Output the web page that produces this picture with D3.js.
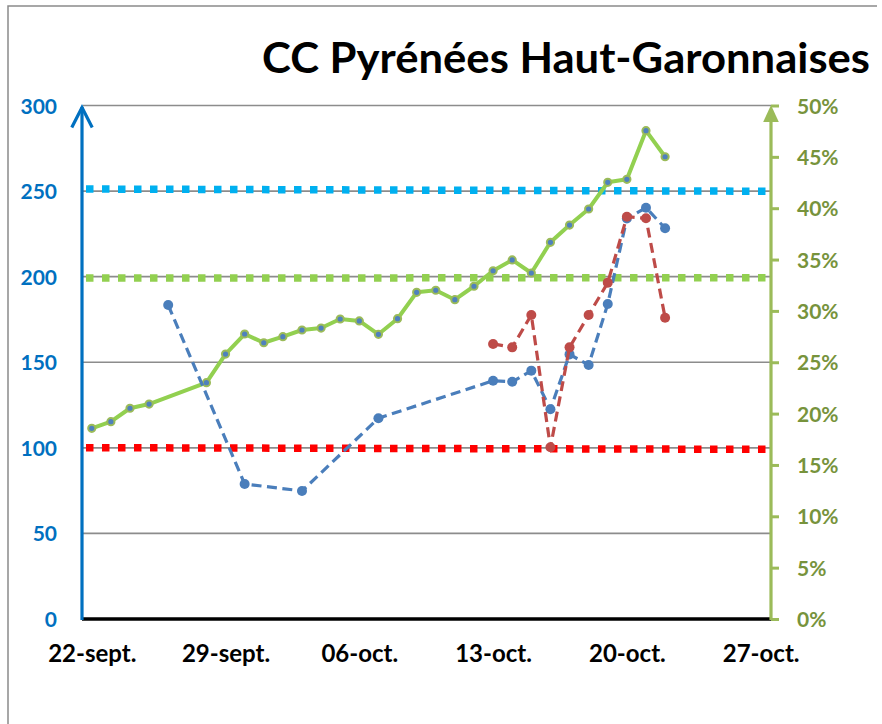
<!DOCTYPE html>
<html>
<head>
<meta charset="utf-8">
<script src="https://cdn.jsdelivr.net/npm/d3@7"></script>
<style>
  html, body { margin: 0; padding: 0; background: #ffffff; }
  svg { display: block; }
  text { font-family: Lato, "Open Sans", "DejaVu Sans", sans-serif; font-weight: bold; }
</style>
</head>
<body>
<svg id="chart" width="882" height="724"></svg>
<script>
// ---- data ----
const title = "CC Pyrénées Haut-Garonnaises";

// green series (right axis, %)
const greenDates = ["2020-09-22","2020-09-23","2020-09-24","2020-09-25","2020-09-28","2020-09-29","2020-09-30",
  "2020-10-01","2020-10-02","2020-10-03","2020-10-04","2020-10-05","2020-10-06","2020-10-07","2020-10-08",
  "2020-10-09","2020-10-10","2020-10-11","2020-10-12","2020-10-13","2020-10-14","2020-10-15","2020-10-16",
  "2020-10-17","2020-10-18","2020-10-19","2020-10-20","2020-10-21","2020-10-22"];
const greenValues = [18.57,19.21,20.52,20.93,23.01,25.80,27.75,
  26.90,27.49,28.14,28.33,29.21,29.02,27.72,29.24,
  31.81,32.01,31.09,32.40,33.91,34.96,33.69,36.68,
  38.36,39.92,42.52,42.81,47.55,45.01];

// blue series (left axis)
const blueDates = ["2020-09-26","2020-09-30","2020-10-03","2020-10-07","2020-10-13","2020-10-14","2020-10-15",
  "2020-10-16","2020-10-17","2020-10-18","2020-10-19","2020-10-20","2020-10-21","2020-10-22"];
const blueValues = [183.4,78.9,74.8,117.3,139.2,138.6,145.1,122.5,154.6,148.4,184,234,240.3,228.3];

// red series (left axis)
const redDates = ["2020-10-13","2020-10-14","2020-10-15","2020-10-16","2020-10-17","2020-10-18","2020-10-19",
  "2020-10-20","2020-10-21","2020-10-22"];
const redValues = [160.7,158.7,177.6,100.3,158.7,177.6,196.5,235,234.1,176];

// reference (threshold) lines on left axis: [start value, end value]
const refCyan = [251.2, 249.9];
const refGreen = [199.2, 199.4];
const refRed = [100.1, 99.1];

// axes
const leftTicks = [0,50,100,150,200,250,300];
const rightTicks = [0,5,10,15,20,25,30,35,40,45,50];
const xTickDates = ["2020-09-22","2020-09-29","2020-10-06","2020-10-13","2020-10-20","2020-10-27"];
const xTickLabels = ["22-sept.","29-sept.","06-oct.","13-oct.","20-oct.","27-oct."];
const xDomain = ["2020-09-21T13:00","2020-10-27T13:00"];

// ---- drawing ----
const parseDay = d3.utcParse("%Y-%m-%d");
const parseDT = d3.utcParse("%Y-%m-%dT%H:%M");
const svg = d3.select("#chart");

const plot = {left: 83, right: 771, top: 105.5, bottom: 619};

const x = d3.scaleUtc().domain(xDomain.map(parseDT)).range([plot.left, plot.right]);
const yL = d3.scaleLinear().domain([0, 300]).range([plot.bottom, plot.top]);
const yR = d3.scaleLinear().domain([0, 50]).range([plot.bottom, plot.top]);

// outer frame (top + left edges visible)
svg.append("path").attr("d", "M8,724 L8,6 L877,6")
  .attr("fill", "none").attr("stroke", "#8a8a8a").attr("stroke-width", 1.5);

// title
svg.append("text").attr("x", 870).attr("y", 73).attr("text-anchor", "end")
  .attr("font-size", 42).attr("fill", "#000")
  .attr("textLength", 608).attr("lengthAdjust", "spacingAndGlyphs")
  .text(title);

// gridlines
svg.append("g").selectAll("line").data(leftTicks.filter(d => d > 0)).join("line")
  .attr("x1", plot.left).attr("x2", plot.right)
  .attr("y1", d => yL(d)).attr("y2", d => yL(d))
  .attr("stroke", "#8c8c8c").attr("stroke-width", 1.6);

// reference dotted lines
function refLine(vals, color) {
  const pts = [[x.domain()[0], vals[0]], [x.domain()[1], vals[1]]];
  svg.append("path")
    .attr("d", d3.line().x(d => x(d[0])).y(d => yL(d[1]))(pts))
    .attr("fill", "none").attr("stroke", color).attr("stroke-width", 7.5)
    .attr("stroke-dasharray", "7.5,8.5").attr("stroke-dashoffset", -3);
}
refLine(refCyan, "#00b0f0");
refLine(refGreen, "#92d050");
refLine(refRed, "#ff0000");

// green line (right axis)
const greenData = greenDates.map((d, i) => ({d: parseDay(d), v: greenValues[i]}));
svg.append("path").datum(greenData)
  .attr("d", d3.line().x(p => x(p.d)).y(p => yR(p.v)))
  .attr("fill", "none").attr("stroke", "#92d050").attr("stroke-width", 4)
  .attr("stroke-linejoin", "round");
svg.append("g").selectAll("circle").data(greenData).join("circle")
  .attr("cx", p => x(p.d)).attr("cy", p => yR(p.v)).attr("r", 3.6)
  .attr("fill", "#4f81bd").attr("stroke", "#9bbb59").attr("stroke-width", 2);

// blue dashed
const blueData = blueDates.map((d, i) => ({d: parseDay(d), v: blueValues[i]}));
svg.append("path").datum(blueData)
  .attr("d", d3.line().x(p => x(p.d)).y(p => yL(p.v)))
  .attr("fill", "none").attr("stroke", "#4a7ebb").attr("stroke-width", 3.2)
  .attr("stroke-dasharray", "10,5.5");
svg.append("g").selectAll("circle").data(blueData).join("circle")
  .attr("cx", p => x(p.d)).attr("cy", p => yL(p.v)).attr("r", 5)
  .attr("fill", "#4a7ebb");

// red dashed
const redData = redDates.map((d, i) => ({d: parseDay(d), v: redValues[i]}));
svg.append("path").datum(redData)
  .attr("d", d3.line().x(p => x(p.d)).y(p => yL(p.v)))
  .attr("fill", "none").attr("stroke", "#be4b48").attr("stroke-width", 3.2)
  .attr("stroke-dasharray", "10,5.5");
svg.append("g").selectAll("circle").data(redData).join("circle")
  .attr("cx", p => x(p.d)).attr("cy", p => yL(p.v)).attr("r", 5)
  .attr("fill", "#be4b48");

// x axis
const xAxis = svg.append("g").attr("transform", `translate(0,${plot.bottom})`)
  .call(d3.axisBottom(x).tickValues(xTickDates.map(parseDay))
    .tickFormat((d, i) => xTickLabels[i]).tickSize(0));
xAxis.select(".domain").remove();
xAxis.selectAll("text").attr("y", 43).attr("dy", 0)
  .attr("font-size", 24).attr("fill", "#000")
  .style("font-family", "Lato, sans-serif").style("font-weight", "bold");
svg.append("line").attr("x1", plot.left - 1).attr("x2", plot.right)
  .attr("y1", plot.bottom).attr("y2", plot.bottom)
  .attr("stroke", "#000").attr("stroke-width", 3.3);

// left axis
const leftAxis = svg.append("g").attr("transform", `translate(82,0)`)
  .call(d3.axisLeft(yL).tickValues(leftTicks).tickSize(0).tickPadding(25));
leftAxis.select(".domain").remove();
leftAxis.selectAll("text").attr("font-size", 21).attr("fill", "#0070c0")
  .attr("dy", "0.36em")
  .style("font-family", "Lato, sans-serif").style("font-weight", "bold");
svg.append("line").attr("x1", 82).attr("x2", 82).attr("y1", plot.bottom + 1).attr("y2", 107)
  .attr("stroke", "#0070c0").attr("stroke-width", 3.2);
svg.append("path").attr("d", "M72.5,126 L82,107.5 L91.5,126")
  .attr("fill", "none").attr("stroke", "#0070c0").attr("stroke-width", 3.2)
  .attr("stroke-linecap", "square").attr("stroke-linejoin", "miter");

// right axis
const rightAxis = svg.append("g").attr("transform", `translate(${plot.right},0)`)
  .call(d3.axisRight(yR).tickValues(rightTicks).tickFormat(d => d + "%")
    .tickSize(8).tickPadding(18));
rightAxis.select(".domain").remove();
rightAxis.selectAll(".tick line").attr("stroke", "#9bbb59").attr("stroke-width", 3);
rightAxis.selectAll("text").attr("font-size", 21).attr("fill", "#77933c")
  .attr("dy", "0.36em")
  .style("font-family", "Lato, sans-serif").style("font-weight", "bold");
svg.append("line").attr("x1", plot.right).attr("x2", plot.right)
  .attr("y1", plot.bottom + 1).attr("y2", 118)
  .attr("stroke", "#9bbb59").attr("stroke-width", 3.2);
svg.append("path").attr("d", `M${plot.right},105 L${plot.right + 7.8},122 L${plot.right - 7.8},122 Z`)
  .attr("fill", "#9bbb59");
</script>
</body>
</html>
